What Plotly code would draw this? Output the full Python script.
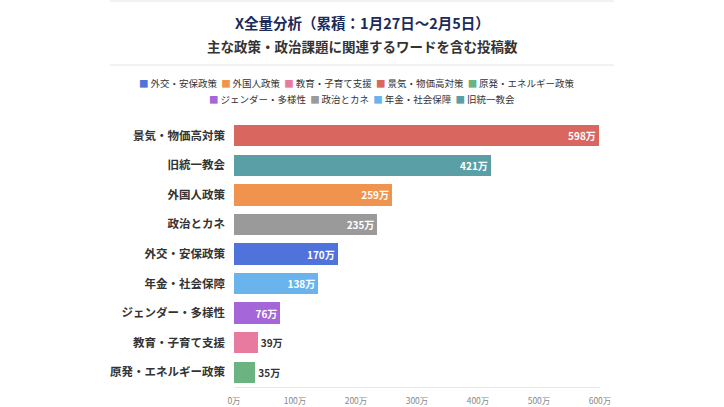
import plotly.graph_objects as go

# Data (legend order)
categories = ["外交・安保政策", "外国人政策", "教育・子育て支援", "景気・物価高対策",
              "原発・エネルギー政策", "ジェンダー・多様性", "政治とカネ", "年金・社会保障", "旧統一教会"]
values = [170, 259, 39, 598, 35, 76, 235, 138, 421]
colors = ["#4f72db", "#f0934f", "#e97a9f", "#d9665f", "#6bb380",
          "#a566d9", "#9a9a9a", "#6ab4ee", "#5a9ea6"]
# Display order top -> bottom
display_order = ["景気・物価高対策", "旧統一教会", "外国人政策", "政治とカネ", "外交・安保政策",
                 "年金・社会保障", "ジェンダー・多様性", "教育・子育て支援", "原発・エネルギー政策"]
x_ticks = [0, 100, 200, 300, 400, 500, 600]

FONT = "Noto Sans CJK JP"

# plot-area geometry (pixels)
PL, PR, PT, PB = 234, 600, 121, 387
PW, PH = PR - PL, PB - PT


def px_x(x):
    return (x - PL) / PW


def px_y(y):
    return (PB - y) / PH


fig = go.Figure()
for cat, val, col in zip(categories, values, colors):
    inside = val >= 60
    fig.add_trace(go.Bar(
        y=[cat], x=[val], name=cat, orientation="h",
        marker=dict(color=col, line=dict(width=0)),
        width=0.72,
        text=[f"{val}万"], textposition="inside" if inside else "outside",
        insidetextanchor="end",
        textfont=dict(color="white" if inside else "#333333", size=10, family=FONT, weight="bold"),
        cliponaxis=False,
        hoverinfo="skip",
        showlegend=False,
    ))


def legend_row(idx):
    parts = []
    for i in idx:
        parts.append(f"<span style='color:{colors[i]}'>■</span>\u2009{categories[i]}")
    return "\u00a0\u00a0".join(parts)


annotations = [
    dict(text="<b>X全量分析（累積：1月27日〜2月5日）</b>", x=px_x(362), y=px_y(22),
         font=dict(size=14.5, family=FONT, color="#1c2b5a")),
    dict(text="<b>主な政策・政治課題に関連するワードを含む投稿数</b>", x=px_x(362), y=px_y(46),
         font=dict(size=13.5, family=FONT, color="#333333")),
    dict(text=legend_row(range(0, 5)), x=px_x(357), y=px_y(83),
         font=dict(size=9.5, family=FONT, color="#333333")),
    dict(text=legend_row(range(5, 9)), x=px_x(362), y=px_y(99),
         font=dict(size=9.5, family=FONT, color="#333333")),
]
for a in annotations:
    a.update(xref="paper", yref="paper", xanchor="center", yanchor="middle", showarrow=False)

fig.update_layout(
    width=724, height=407,
    margin=dict(l=PL, r=724 - PR, t=PT, b=407 - PB, autoexpand=False),
    paper_bgcolor="white", plot_bgcolor="white",
    barmode="stack",
    font=dict(family=FONT, color="#333333"),
    showlegend=False,
    annotations=annotations,
    shapes=[
        dict(type="line", xref="paper", yref="paper",
             x0=px_x(110), x1=px_x(614), y0=px_y(1), y1=px_y(1),
             line=dict(color="#eeeeee", width=1.5)),
        dict(type="line", xref="paper", yref="paper",
             x0=px_x(110), x1=px_x(614), y0=px_y(65), y1=px_y(65),
             line=dict(color="#eeeeee", width=1.5)),
    ],
)
fig.update_xaxes(range=[0, 600], tickvals=x_ticks, ticktext=[f"{t}万" for t in x_ticks],
                 showgrid=False, zeroline=False, showline=True, linecolor="#e6e6e6",
                 ticklabelstandoff=6, automargin=False,
                 tickfont=dict(size=8.5, color="#888888", family=FONT), ticks="", fixedrange=True)
fig.update_yaxes(categoryorder="array", categoryarray=display_order[::-1],
                 showgrid=False, zeroline=False, showline=False, ticks="",
                 ticklabelstandoff=8, automargin=False,
                 tickfont=dict(size=11.5, color="#333333", family=FONT, weight="bold"),
                 fixedrange=True)

fig.write_html("out.html", config={"displayModeBar": False},
               post_script="document.body.style.margin='0';document.body.style.overflow='hidden';")
